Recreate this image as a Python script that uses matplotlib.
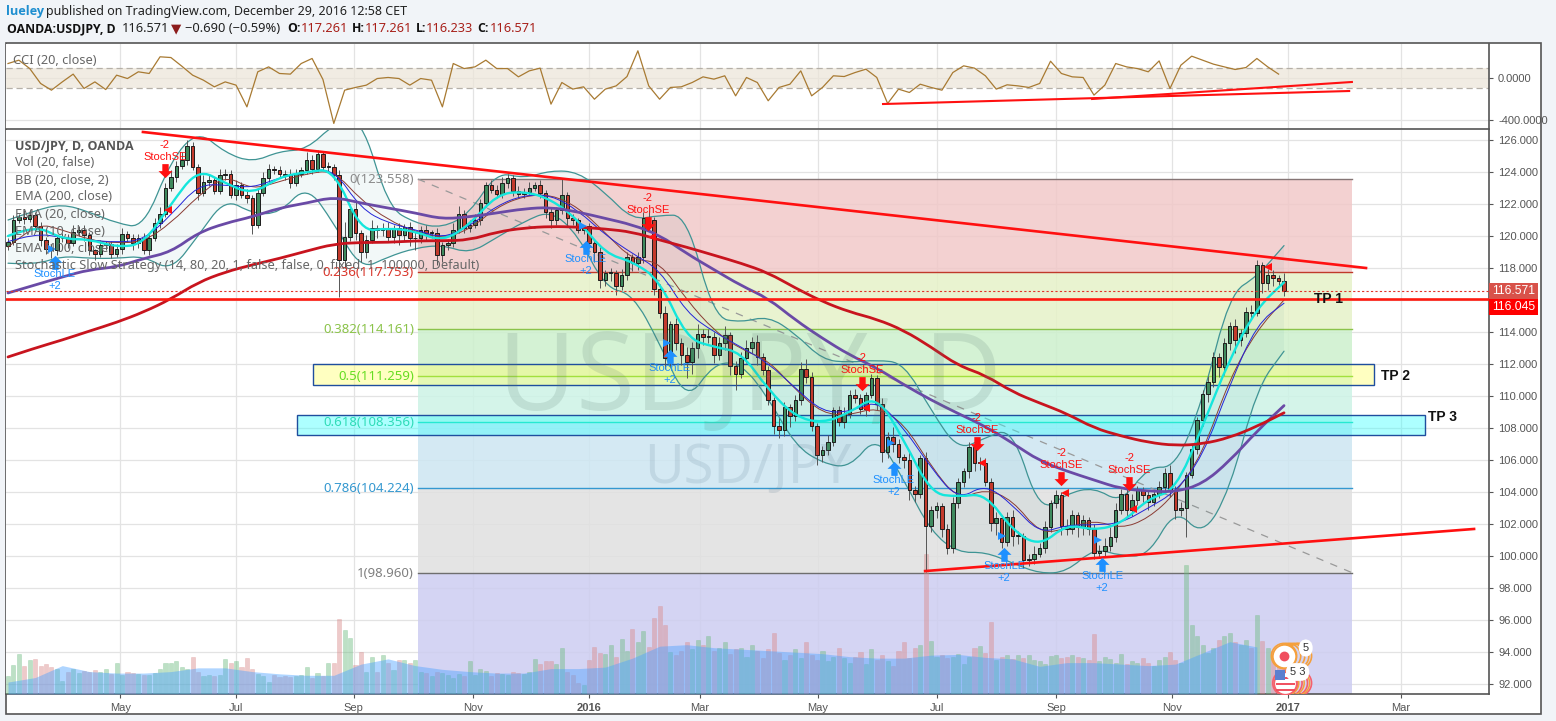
import numpy as np
import matplotlib
matplotlib.use("Agg")
import matplotlib.pyplot as plt
from matplotlib.patches import Rectangle, PathPatch
from matplotlib.path import Path

W, H = 1556, 721
UI_FONT = ["Noto Sans", "DejaVu Sans"]
BOLD_FONT = ["Open Sans", "DejaVu Sans"]
AXIS_FONT = "Liberation Sans"

# daily closes, one candle per two trading days
closes = [
    119.65,121.0,121.2,121.05,121.3,120.6,119.75,119.2,119.1,119.85,
    119.9,119.55,120.27,120.4,120.06,119.1,118.9,119.44,119.5,118.9,
    119.2,120.1,119.85,119.55,119.9,119.1,119.9,120.8,121.4,123.0,
    123.7,124.4,124.75,125.6,124.3,122.67,123.4,123.5,122.8,123.8,
    123.9,122.56,123.2,122.56,122.35,120.7,122.67,123.6,124.2,124.1,
    123.9,123.8,123.3,123.9,124.1,124.75,124.2,125.1,124.3,124.3,
    123.8,118.5,119.96,121.7,120.17,119.0,119.75,120.5,120.4,120.5,
    119.96,120.5,120.06,120.58,119.85,119.85,120.4,120.17,120.17,118.8,
    119.44,119.54,120.4,121.4,120.48,120.7,121.0,122.04,123.2,122.9,
    122.6,123.3,123.6,122.8,122.6,122.77,123.0,123.2,122.67,121.5,
    121.0,121.6,122.56,121.1,121.0,120.4,120.6,119.54,119.0,117.25,
    117.67,117.67,116.9,117.56,118.7,118.3,118.7,121.1,121.0,116.7,
    115.2,112.4,114.5,113.3,112.56,112.1,113.0,113.9,113.7,113.7,
    112.56,113.3,113.8,111.9,111.4,112.35,113.0,113.4,112.46,111.6,
    109.75,108.1,107.9,109.3,108.75,109.75,111.7,111.2,108.1,106.3,
    106.6,107.15,109.1,108.4,108.9,110.06,109.85,109.17,110.06,111.1,
    109.5,106.5,107.46,107.0,106.2,106.0,104.1,103.9,106.1,101.9,
    102.9,103.1,101.7,100.5,103.3,104.6,105.3,106.8,105.8,105.8,
    104.65,102.04,102.35,100.9,102.46,101.25,101.25,99.75,99.8,100.15,
    100.5,101.8,103.3,103.8,101.9,101.7,102.56,101.8,102.25,101.7,
    100.2,100.3,100.6,101.2,102.9,103.9,102.9,103.5,104.1,103.8,
    103.4,103.9,104.3,105.2,104.1,102.9,103.0,105.06,106.7,108.5,
    110.1,110.85,112.46,111.8,113.3,114.4,113.5,113.96,115.27,115.2,
    118.2,117.04,117.56,117.35,117.2,116.57,
]
# wick lengths above/below the body, tenths of a yen
wick_up = [
    2,3,2,4,3,2,3,2,3,2, 3,2,4,2,3,2,1,3,2,2,
    3,4,2,3,2,3,2,3,4,3, 4,3,5,4,3,2,4,3,2,4,
    3,2,3,2,4,2,3,4,3,2, 3,2,4,3,2,5,3,3,2,3,
    2,3,9,3,4,2,3,5,2,3, 4,2,3,2,3,4,2,3,2,3,
    2,3,4,5,2,3,4,3,2,3, 3,4,3,2,3,2,4,2,3,2,
    3,2,10,2,3,1,1,2,2,3, 2,3,2,4,3,2,3,4,5,2,
    3,4,2,4,3,5,4,6,3,5, 3,4,6,2,3,4,5,3,4,2,
    3,2,5,3,2,3,4,6,3,2, 3,4,2,3,4,3,4,3,2,3,
    2,4,3,6,3,2,5,3,2,4, 2,3,2,3,4,3,2,3,5,4,
    3,2,4,2,3,4,3,2,3,5, 3,4,2,3,2,4,3,2,3,2,
    3,4,5,6,4,3,5,4,3,2, 3,2,4,3,5,3,4,2,3,2,
    3,4,3,2,3,2,4,2,3,4, 3,2,4,3,2,5,3,6,3,5,
    4,3,3,4,2,4,
]
wick_dn = [
    3,2,2,3,2,3,4,3,5,3, 2,3,2,3,4,3,4,2,3,3,
    2,3,2,4,3,2,3,2,3,2, 2,3,2,3,2,4,2,3,2,2,
    3,2,3,2,3,6,2,2,3,2, 2,3,3,2,2,2,3,2,2,3,
    3,23,5,3,4,6,4,2,5,4, 3,4,6,4,5,7,3,4,3,6,
    4,3,2,2,3,2,2,3,2,2, 2,2,3,3,2,2,2,2,3,4,
    5,3,2,5,3,2,3,3,6,5, 4,5,6,3,3,5,4,4,6,4,
    3,7,5,4,6,10,7,6,5,4, 5,3,4,6,10,3,3,3,5,3,
    3,5,5,4,7,3,3,4,3,6, 4,3,3,3,4,3,3,3,4,2,
    4,6,4,5,4,5,6,5,3,29, 4,5,5,4,3,3,3,4,5,4,
    3,5,7,4,3,6,5,5,4,3, 2,3,3,3,6,4,3,6,5,4,
    4,3,3,3,3,3,5,4,3,4, 5,3,3,3,4,6,4,18,2,3,
    4,5,3,6,5,4,8,4,3,3, 2,6,4,5,4,3,
]
# volume bars, same candles as closes
volume = [
    24,39,53,37,46,47,37,40,36,33, 18,30,33,28,31,30,32,30,33,27,
    42,26,30,28,27,26,26,28,33,41, 41,44,36,33,50,30,24,25,24,26,
    47,42,44,36,48,34,27,24,16,25, 23,24,23,24,25,36,21,28,24,42,
    42,100,86,75,39,56,30,49,30,52, 42,32,46,45,42,46,30,28,24,30,
    28,25,22,27,24,44,26,33,31,24, 28,27,25,30,28,27,29,47,40,44,
    44,40,61,30,25,15,12,46,63,55, 53,66,50,74,57,87,70,84,63,102,
    118,92,56,52,58,70,60,72,65,78, 58,62,70,54,60,62,50,66,58,48,
    60,82,55,45,52,60,48,70,52,46, 58,44,50,62,48,42,50,56,40,60,
    46,52,44,38,58,70,48,62,66,187, 71,50,52,48,50,54,40,50,62,64,
    55,96,45,50,52,47,52,48,52,46, 44,40,51,52,48,50,52,50,48,46,
    80,44,50,47,42,54,40,44,42,48, 42,38,45,49,56,45,42,173,93,78,
    65,55,62,72,78,82,70,65,72,62, 106,71,62,58,50,38,
]
# indicators read every ten trading days
ema200 = [112.44,113.0,113.5,114.06,114.6,115.25,116.06,117.1,117.75,118.2,118.6,119.06,119.5,
          119.6,119.6,119.7,119.7,119.75,120.25,120.5,120.6,120.56,120.44,120.25,
          119.75,119.3,118.8,118.3,117.7,116.75,115.9,115.25,114.8,114.1,113.06,111.9,
          111.3,110.25,109.56,108.9,108.0,107.5,107.1,106.9,107.0,107.4,108.1,108.95]
ema100 = [116.44,116.94,117.44,117.9,118.06,118.6,119.0,120.2,120.8,121.2,121.75,122.06,122.44,
          122.06,121.75,121.44,121.06,121.2,121.44,121.7,121.8,121.5,121.1,120.7,
          120.06,118.9,117.9,116.9,116.1,114.75,113.6,112.56,111.75,110.7,109.75,108.9,
          108.1,107.06,105.94,105.3,104.75,104.2,104.06,104.0,104.5,105.94,107.8,109.4]
ema10 = [120.0,120.7,119.8,119.8,119.3,119.5,122.0,124.2,123.3,122.6,123.7,124.0,124.2,
         120.27,120.5,120.3,119.65,120.7,122.6,122.8,122.3,121.0,118.9,118.4,
         117.25,113.6,113.06,112.75,110.4,108.7,108.3,108.96,110.06,107.25,103.9,103.7,
         103.9,101.6,100.6,102.0,101.6,102.0,103.6,104.1,108.1,112.35,115.5,117.1]
ema20 = [119.65,120.17,119.9,119.75,119.6,119.75,121.3,123.2,123.2,123.0,123.65,124.0,124.2,
         121.7,120.8,120.4,119.85,120.6,121.9,122.56,122.56,121.6,120.06,118.9,
         117.9,115.2,114.0,113.06,112.06,110.5,109.0,109.0,109.75,108.0,105.5,103.5,
         104.5,103.2,101.4,101.94,101.94,102.05,103.0,104.0,106.2,110.7,114.5,115.8]
ema_slow = [119.3,120.8,120.4,119.75,119.55,119.65,120.8,122.5,123.8,122.9,123.4,123.9,124.1,
            122.25,121.0,120.27,119.85,120.4,121.8,122.5,122.6,121.8,120.2,118.5,
            118.4,116.0,114.1,112.9,112.25,110.4,108.9,108.8,109.3,108.3,105.6,103.5,
            104.2,103.5,101.4,101.7,102.25,101.7,102.35,103.9,106.4,111.1,114.1,116.0]
bb_upper = [121.0,121.6,122.0,121.5,120.8,120.5,124.75,126.6,125.2,124.6,125.3,125.4,127.0,
            127.5,121.8,120.8,120.5,121.4,124.0,123.6,124.1,124.0,122.7,121.0,
            121.3,121.3,114.9,114.6,115.0,113.9,112.25,112.1,112.25,112.06,109.1,106.6,
            107.4,108.0,102.7,103.9,104.3,103.3,105.6,105.5,109.7,116.4,117.46,119.4]
bb_lower = [118.3,118.2,118.75,118.6,118.6,118.75,117.8,120.0,122.35,121.4,121.4,123.2,120.8,
            117.9,118.7,119.25,119.44,118.9,119.9,120.9,121.6,120.06,116.75,116.4,
            113.3,109.6,112.06,112.06,109.9,106.9,105.8,105.5,107.56,104.75,101.5,100.2,
            100.25,99.56,98.9,99.0,100.5,100.0,100.0,103.0,101.2,104.1,110.5,112.8]
vol_ma = [16,22,38,30,28,28,30,35,35,30,27,25,25,40,47,38,33,30,28,28,34,34,36,48,64,66,
          62,60,58,56,54,50,48,48,52,53,49,47,37,42,42,40,38,40,55,70,63]
# CCI every four trading days
cci = [138,170,90,-52,-116,-37,37,-100,-37,-110,27,-5,59,43,202,195,113,27,-21,-84,
       -37,-68,-275,59,106,43,37,138,186,-14,-433,-116,-90,-68,-5,5,-5,-68,-5,-21,
       -275,138,90,106,170,90,90,11,68,94,-249,-43,-106,-84,-202,-106,-75,14,259,-75,
       -202,-90,-84,-43,11,-11,21,-170,5,-43,-217,-90,-59,68,-170,-90,21,14,52,84,
       5,-243,-106,-138,-59,-90,-116,52,116,94,21,-106,-65,-75,-90,-52,160,43,11,5,
       -163,-68,138,106,90,59,163,-100,122,208,170,132,106,81,100,186,106,37]

fib_levels = [123.558, 117.753, 114.161, 111.259, 108.356, 104.224, 98.960]
fib_names = ["0", "0.236", "0.382", "0.5", "0.618", "0.786", "1"]
fib_line_colors = ["#857575", "#c0392b", "#8bc34a", "#66cc22", "#1fdcb4", "#3498d0", "#6e6e6e"]
fib_text_colors = ["#8a8a8a", "#d9362b", "#8bc34a", "#66dd22", "#2fdcb8", "#3498d0", "#808080"]
fib_fills = ["#f1c9c9", "#e6f2c8", "#cdf0cd", "#cdf3e6", "#cde6f2", "#e0e0e0", "#cdcdf1"]
fib_start, fib_end = 151, 495
price_now, price_line = 116.571, 116.045

tick_bars = [41.3, 84, 127.4, 171.3, 214, 254.9, 298.3, 342.2, 386, 428.7, 471.5, 513]
tick_names = ["May", "Jul", "Sep", "Nov", "2016", "Mar", "May", "Jul", "Sep", "Nov", "2017", "Mar"]
price_ticks = list(range(92, 127, 2))

resist_x, resist_y = [49.7, 500.2], [126.5, 118.0]
support_x, support_y = [337.8, 540], [99.06, 101.69]
fib_diag_x, fib_diag_y = [151, 495], [123.558, 98.96]
cci_line1_x, cci_line1_y = [322.3, 494], [-248, -124]
cci_line2_x, cci_line2_y = [399.3, 495], [-200, -38]
tp_zones = [("TP 2", 112.3, 503.1, 110.67, 112.0, "#ffff66"),
            ("TP 3", 106.4, 522, 107.55, 108.84, "#33ffff")]

le_bars = [17.3, 212.9, 243.8, 326.3, 366.9, 403]
le_prices = [118.31, 119.25, 112.44, 105.44, 100.06, 99.44]
se_bars = [57.8, 235.7, 314.5, 356.9, 387.9, 412.9]
se_prices = [124.125, 120.81, 110.81, 107.06, 104.875, 104.56]
close_red_bars = [58.9, 237.2, 316, 358.7, 389.3, 414.4, 464.1]
close_red_prices = [121.625, 119.94, 109.25, 105.81, 103.94, 102.94, 118.06]
close_blue_bars = [16.2, 211.8, 242.7, 325.2, 366.1, 401.5]
close_blue_prices = [119.19, 120.625, 113.31, 107.06, 101.25, 101.0]
jp_rings = [470, 471.5, 473, 474.5, 475.5]
us_rings = [470.5, 472, 474, 475.5]
us_rings2 = [471, 473, 475]


def fx(px):
    return px / W


def fy(py):
    return 1 - py / H


def label(px, py, s, **kw):
    kw.setdefault("va", "center")
    kw.setdefault("family", UI_FONT)
    return fig.text(fx(px), fy(py), s, **kw)


def curve(x, y):
    # quadratic curve with the read points as control points, so the line is not angular
    verts = [(x[0], y[0])]
    codes = [Path.MOVETO]
    for i in range(1, len(x) - 1):
        verts.append((x[i], y[i]))
        verts.append(((x[i] + x[i + 1]) / 2, (y[i] + y[i + 1]) / 2))
        codes += [Path.CURVE3, Path.CURVE3]
    verts.append((x[-1], y[-1]))
    codes.append(Path.LINETO)
    return verts, codes


def draw_curve(a, x, y, color, lw, zorder):
    verts, codes = curve(x, y)
    a.add_patch(PathPatch(Path(verts, codes), fc="none", ec=color, lw=lw, zorder=zorder, capstyle="round"))


fig = plt.figure(figsize=(W / 100, H / 100), dpi=100, facecolor="#f1f4f8")
fig.add_artist(Rectangle((fx(6), fy(714)), 1535 / W, 671 / H, transform=fig.transFigure,
                         fc="white", ec="#555555", lw=1.2, zorder=-5))

ax_cci = fig.add_axes([fx(6), fy(129), 1483 / W, 85 / H])
ax = fig.add_axes([fx(6), fy(694), 1483 / W, 564 / H])
for a in (ax, ax_cci):
    a.set_xlim(-0.74, 545.5)
    a.set_xticks(tick_bars)
    a.grid(True, color="#e3e3e3", lw=0.9)
    a.set_axisbelow(True)
    a.yaxis.tick_right()
    for name in ("top", "left"):
        a.spines[name].set_visible(False)
    a.spines["right"].set_color("#555555")
    a.spines["bottom"].set_color("#555555")
    a.spines["right"].set_linewidth(1.2)
    a.spines["bottom"].set_linewidth(1.2)
    a.tick_params(colors="#555555", labelsize=8, length=3, width=0.8)

# cci pane
cci_x = np.arange(len(cci)) * 4
ax_cci.set_ylim(-486, 324)
ax_cci.set_yticks([0, -400])
ax_cci.set_yticklabels(["0.0000", "-400.0000"], family=AXIS_FONT)
ax_cci.tick_params(axis="x", length=0, labelbottom=False)
ax_cci.axhspan(-100, 100, color="#ece5d8", alpha=0.7, lw=0, zorder=1)
for level in (-100, 100):
    ax_cci.axhline(level, color="#b5b0a8", lw=0.9, ls=(0, (5, 3)), zorder=1.5)
ax_cci.plot(cci_x, cci, color="#a87a32", lw=0.9, zorder=3)
ax_cci.plot(cci_line1_x, cci_line1_y, color="#ff1010", lw=1.5, zorder=4)
ax_cci.plot(cci_line2_x, cci_line2_y, color="#ff1010", lw=1.5, zorder=4)

# main pane
ymin, ymax = 91.375, 126.625
ax.set_ylim(ymin, ymax)
ax.set_yticks(price_ticks)
ax.set_yticklabels(["%.3f" % p for p in price_ticks], family=AXIS_FONT)
ax.set_xticklabels(tick_names, family=AXIS_FONT)
for t, name in zip(ax.get_xticklabels(), tick_names):
    if name.startswith("20"):
        t.set_fontweight("bold")

# fib bands
edges = fib_levels + [ymin]
for i in range(len(fib_levels)):
    ax.fill_between([fib_start, fib_end], edges[i + 1], edges[i], color=fib_fills[i],
                    alpha=0.85, lw=0, zorder=1)
    ax.plot([fib_start, fib_end], [fib_levels[i]] * 2, color=fib_line_colors[i], lw=1.0, zorder=2)
    ax.text(fib_start - 1.5, fib_levels[i] - 0.03, "%s(%.3f)" % (fib_names[i], fib_levels[i]),
            color=fib_text_colors[i], ha="right", va="center", fontsize=9.5, family=UI_FONT, zorder=6)
ax.plot(fib_diag_x, fib_diag_y, color="#999999", lw=0.9, ls=(0, (6, 6)), zorder=2.2)

# watermark
label(750, 382, "USDJPY, D", fontsize=77, color="#5a7a70", alpha=0.17, ha="center", zorder=0.5)
label(748, 468, "USD/JPY", fontsize=39, color="#5a7a90", alpha=0.16, ha="center", zorder=0.5)

# tp zones
for name, x0, x1, y0, y1, col in tp_zones:
    ax.add_patch(Rectangle((x0, y0), x1 - x0, y1 - y0, fc=col, alpha=0.4, ec="none", zorder=2.5))
    ax.add_patch(Rectangle((x0, y0), x1 - x0, y1 - y0, fc="none", ec="#1f4e9e", lw=1.0, zorder=2.6))

# volume, drawn on the price scale from the bottom edge
vol_scale = 0.0467
bar_x = np.arange(len(closes)) * 2
opens = [closes[0] - 0.25] + closes[:-1]
up = [c >= o for o, c in zip(opens, closes)]
vol_h = np.array(volume) * vol_scale
vol_colors = ["#6dbb80" if u else "#d98a8a" for u in up]
ax.bar(bar_x[:len(vol_h)], vol_h, bottom=ymin, width=1.5, color=vol_colors, alpha=0.45,
       edgecolor=vol_colors, lw=0.4, zorder=3)
ma_x = np.arange(len(vol_ma)) * 10
ax.fill_between(ma_x, ymin, ymin + np.array(vol_ma) * vol_scale, color="#4fa3ff", alpha=0.45, lw=0, zorder=3.1)

# bollinger
line_x = np.arange(len(ema200)) * 10
up_v, up_c = curve(list(line_x), bb_upper)
lo_v, lo_c = curve(list(line_x[::-1]), bb_lower[::-1])
lo_c = [Path.LINETO] + lo_c[1:]
ax.add_patch(PathPatch(Path(up_v + lo_v + [up_v[0]], up_c + lo_c + [Path.LINETO]),
                       fc="#2e8b8b", alpha=0.06, lw=0, zorder=3.2))
draw_curve(ax, line_x, bb_upper, "#3f9494", 0.9, 3.3)
draw_curve(ax, line_x, bb_lower, "#3f9494", 0.9, 3.3)

# candles
highs = [max(o, c) + u * 0.1 for o, c, u in zip(opens, closes, wick_up)]
lows = [min(o, c) - d * 0.1 for o, c, d in zip(opens, closes, wick_dn)]
ax.vlines(bar_x, lows, highs, color="#555555", lw=0.7, zorder=4)
body_lo = [min(o, c) for o, c in zip(opens, closes)]
body_h = [max(abs(c - o), 0.05) for o, c in zip(opens, closes)]
ax.bar(bar_x, body_h, bottom=body_lo, width=1.3,
       color=["#3f8a5e" if u else "#c33a2c" for u in up], edgecolor="#1c1c1c", lw=0.7, zorder=4.1)

draw_curve(ax, line_x, ema_slow, "#8a3b33", 0.7, 4.4)
draw_curve(ax, line_x, ema20, "#2424d8", 0.7, 4.4)
draw_curve(ax, line_x, ema10, "#14e6dc", 1.7, 4.5)
draw_curve(ax, line_x, ema100, "#6a4aa6", 2.0, 4.6)
draw_curve(ax, line_x, ema200, "#c8141e", 2.0, 4.7)

# drawn lines
ax.plot(resist_x, resist_y, color="#ff1010", lw=1.9, zorder=5)
ax.plot(support_x, support_y, color="#ff1010", lw=1.9, zorder=5)
ax.axhline(price_line, color="#ff1a10", lw=1.9, zorder=5)
ax.axhline(price_now, color="#e0342a", lw=0.8, ls=(0, (2, 2)), zorder=5)

# strategy signals
arrow_up = Path([(-0.25, -0.5), (0.25, -0.5), (0.25, 0.05), (0.55, 0.05), (0, 0.6), (-0.55, 0.05), (-0.25, 0.05), (-0.25, -0.5)], closed=True)
arrow_dn = Path([(-0.25, 0.5), (0.25, 0.5), (0.25, -0.05), (0.55, -0.05), (0, -0.6), (-0.55, -0.05), (-0.25, -0.05), (-0.25, 0.5)], closed=True)
ax.plot(le_bars, le_prices, ls="", marker=arrow_up, ms=11, color="#1e90ff", mew=0, zorder=6)
ax.plot(se_bars, se_prices, ls="", marker=arrow_dn, ms=11, color="#ff1010", mew=0, zorder=6)
ax.plot(close_red_bars, close_red_prices, ls="", marker="<", ms=6, color="#ff1010", mew=0, zorder=6)
ax.plot(close_blue_bars, close_blue_prices, ls="", marker=">", ms=6, color="#1e90ff", mew=0, zorder=6)
for b, p in zip(le_bars, le_prices):
    ax.annotate("StochLE", (b, p), xytext=(0, -11), textcoords="offset pixels", ha="center", va="center",
                color="#1e90ff", fontsize=8, family=AXIS_FONT, zorder=7)
    ax.annotate("+2", (b, p), xytext=(0, -23), textcoords="offset pixels", ha="center", va="center",
                color="#1e90ff", fontsize=8, family=AXIS_FONT, zorder=7)
for b, p in zip(se_bars, se_prices):
    ax.annotate("StochSE", (b, p), xytext=(0, 13), textcoords="offset pixels", ha="center", va="center",
                color="#ff1010", fontsize=8, family=AXIS_FONT, zorder=7)
    ax.annotate("-2", (b, p), xytext=(0, 25), textcoords="offset pixels", ha="center", va="center",
                color="#ff1010", fontsize=8, family=AXIS_FONT, zorder=7)

# economic events
ax.scatter(jp_rings, [93.75] * len(jp_rings), s=330, fc="none", ec="#f5a03c", lw=1.2, zorder=7)
ax.scatter([470], [93.75], s=280, fc="white", ec="#f5a03c", lw=1.2, zorder=7.1)
ax.scatter([470], [93.75], s=50, color="#f04e5e", lw=0, zorder=7.2)
ax.scatter(us_rings, [92.06] * len(us_rings), s=330, fc="none", ec="#f5606c", lw=1.2, zorder=7)
ax.scatter(us_rings2, [92.06] * len(us_rings2), s=300, fc="none", ec="#f5a03c", lw=1.1, zorder=7)
ax.scatter([470.5], [92.06], s=260, fc="white", ec="#f5606c", lw=1.2, zorder=7.1)
ax.hlines([91.65, 92.0, 92.35], 467, 474, color="#f04e5e", lw=1.4, zorder=7.2)
ax.scatter([468.5], [92.55], s=55, marker="s", color="#5b7fcf", lw=0, zorder=7.3)
ax.text(478, 94.25, "5", fontsize=8, color="#333333", ha="center", va="center", family=AXIS_FONT, zorder=8,
        bbox=dict(boxstyle="round,pad=0.35,rounding_size=0.8", fc="white", ec="none"))
ax.text(475, 92.75, "5 3", fontsize=8, color="#333333", ha="center", va="center", family=AXIS_FONT, zorder=8,
        bbox=dict(boxstyle="round,pad=0.35,rounding_size=0.8", fc="white", ec="none"))

# tp labels
label(1329, 299, "TP 1", fontsize=10, fontweight="bold", color="#111111", ha="center", family=AXIS_FONT)
label(1395, 376, "TP 2", fontsize=10, fontweight="bold", color="#111111", ha="center", family=AXIS_FONT)
label(1442, 417, "TP 3", fontsize=10, fontweight="bold", color="#111111", ha="center", family=AXIS_FONT)

# price tags on the axis
for top, col, txt in [(283, "#d8524a", "116.571"), (299, "#ff0000", "116.045")]:
    fig.add_artist(Rectangle((fx(1489), fy(top + 16)), 49 / W, 16 / H, transform=fig.transFigure,
                             fc=col, ec="none", zorder=9))
    label(1513.5, top + 8, txt, color="white", fontsize=8.8, ha="center", family=AXIS_FONT, zorder=10)

# pane captions
label(13, 61, "CCI (20, close)", fontsize=9.2, color="#666666")
legend_names = ["Vol (20, false)", "BB (20, close, 2)", "EMA (200, close)", "EMA (20, close)",
                "EMA (10, close)", "EMA (100, close)",
                "Stochastic Slow Strategy (14, 80, 20, 1, false, false, 0, fixed, 1, 100000, Default)"]
label(15, 146, "USD/JPY, D, OANDA", fontsize=9, fontweight="bold", color="#555555", family=BOLD_FONT)
for k, name in enumerate(legend_names):
    label(15, 163 + 17 * k, name, fontsize=9.2, color="#666666")

# header
label(6.5, 11, "lueley", fontsize=9.2, color="#1f8fd0", fontweight="bold", family=BOLD_FONT)
label(46, 11, "published on TradingView.com, December 29, 2016 12:58 CET", fontsize=9, color="#222222")
label(7, 29, "OANDA:USDJPY, D", fontsize=8.8, fontweight="bold", color="#111111", family=BOLD_FONT)
label(122, 29, "116.571", fontsize=9.2, color="#222222")
label(176, 29, "▼", fontsize=9.6, color="#8c1c1c", ha="center", family="DejaVu Sans")
label(185, 29, "−0.690 (−0.59%)", fontsize=9.3, color="#222222")
for lx, vx, key, val in [(287, 301, "O:", "117.261"), (352, 365, "H:", "117.261"),
                         (416, 426, "L:", "116.233"), (477, 490, "C:", "116.571")]:
    label(lx, 29, key, fontsize=8.8, fontweight="bold", color="#111111", family=BOLD_FONT)
    label(vx, 29, val, fontsize=9.2, color="#a8201a")

fig.savefig("out.png", dpi=100, facecolor=fig.get_facecolor())
